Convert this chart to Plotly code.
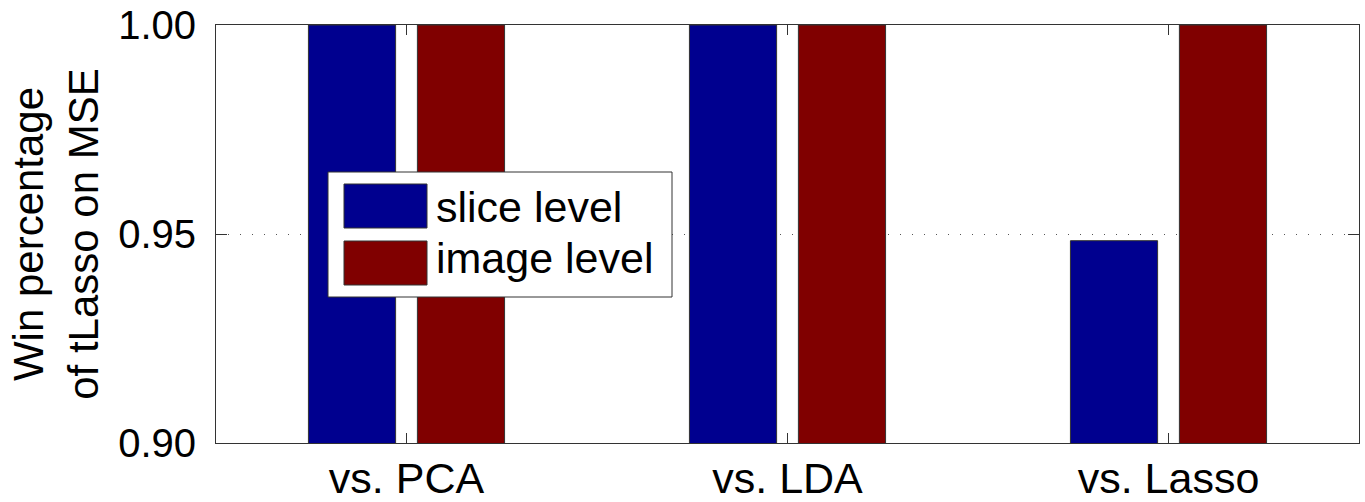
import plotly.graph_objects as go

categories = ["vs. PCA", "vs. LDA", "vs. Lasso"]
series_names = ["slice level", "image level"]
slice_level = [1.0, 1.0, 0.9484]
image_level = [1.0, 1.0, 1.0]
y_ticks = [0.90, 0.95, 1.00]
y_tick_labels = ["0.90", "0.95", "1.00"]

colors = ["#00008F", "#800000"]
FONT = "Liberation Sans, Arial, sans-serif"

W, H = 1365, 502
L, R, T, B = 216, 6, 25, 59
PW, PH = W - L - R, H - T - B

def px(x):
    return (x - L) / PW

def py(y):
    return (H - B - y) / PH

fig = go.Figure()
xs = [1, 2, 3]
for name, vals, col in zip(series_names, [slice_level, image_level], colors):
    fig.add_trace(go.Bar(
        x=xs, y=vals, name=name, marker=dict(color=col, line=dict(color="#333333", width=1)),
        showlegend=False,
    ))

fig.update_layout(
    width=W, height=H,
    margin=dict(l=L, r=R, t=T, b=B, pad=0, autoexpand=False),
    paper_bgcolor="white", plot_bgcolor="white",
    barmode="group", bargap=0.428, bargroupgap=0.2,
    font=dict(family=FONT, color="black"),
)
fig.update_xaxes(
    range=[0.5, 3.5], tickmode="array", tickvals=xs, ticktext=categories,
    ticks="inside", ticklen=10, tickcolor="#333333", tickwidth=1,
    showline=True, linecolor="#333333", linewidth=1, mirror="ticks",
    showgrid=False, zeroline=False, tickfont=dict(size=43, family=FONT),
    ticklabelstandoff=-3, automargin=False,
)
fig.update_yaxes(
    range=[0.90, 1.00], tickmode="array", tickvals=y_ticks, ticktext=y_tick_labels,
    ticks="inside", ticklen=11, tickcolor="#333333", tickwidth=1,
    showline=True, linecolor="#333333", linewidth=1, mirror="ticks",
    showgrid=True, gridcolor="#555555", griddash="1px,11px", gridwidth=1, zeroline=False,
    tickfont=dict(size=40, family=FONT), ticklabelstandoff=11, automargin=False,
    title=dict(text="Win percentage<br>of tLasso on MSE", font=dict(size=42, family=FONT), standoff=6),
)

# legend box
fig.add_shape(type="rect", xref="paper", yref="paper", x0=px(328), x1=px(672), y0=py(297), y1=py(172),
              line=dict(color="#333333", width=1), fillcolor="white", layer="above")
sw_y = [(184, 228), (241, 285)]
txt_y = [207, 258]
for i, (name, col) in enumerate(zip(series_names, colors)):
    fig.add_shape(type="rect", xref="paper", yref="paper", x0=px(344), x1=px(427),
                  y0=py(sw_y[i][1]), y1=py(sw_y[i][0]),
                  line=dict(color="#333333", width=1), fillcolor=col, layer="above")
    fig.add_annotation(xref="paper", yref="paper", x=px(434), y=py(txt_y[i]), text=name,
                       showarrow=False, xanchor="left", yanchor="middle",
                       font=dict(size=43, family=FONT, color="black"))

fig.write_html("out.html", config={"displayModeBar": False},
               post_script="document.body.style.margin='0';")
